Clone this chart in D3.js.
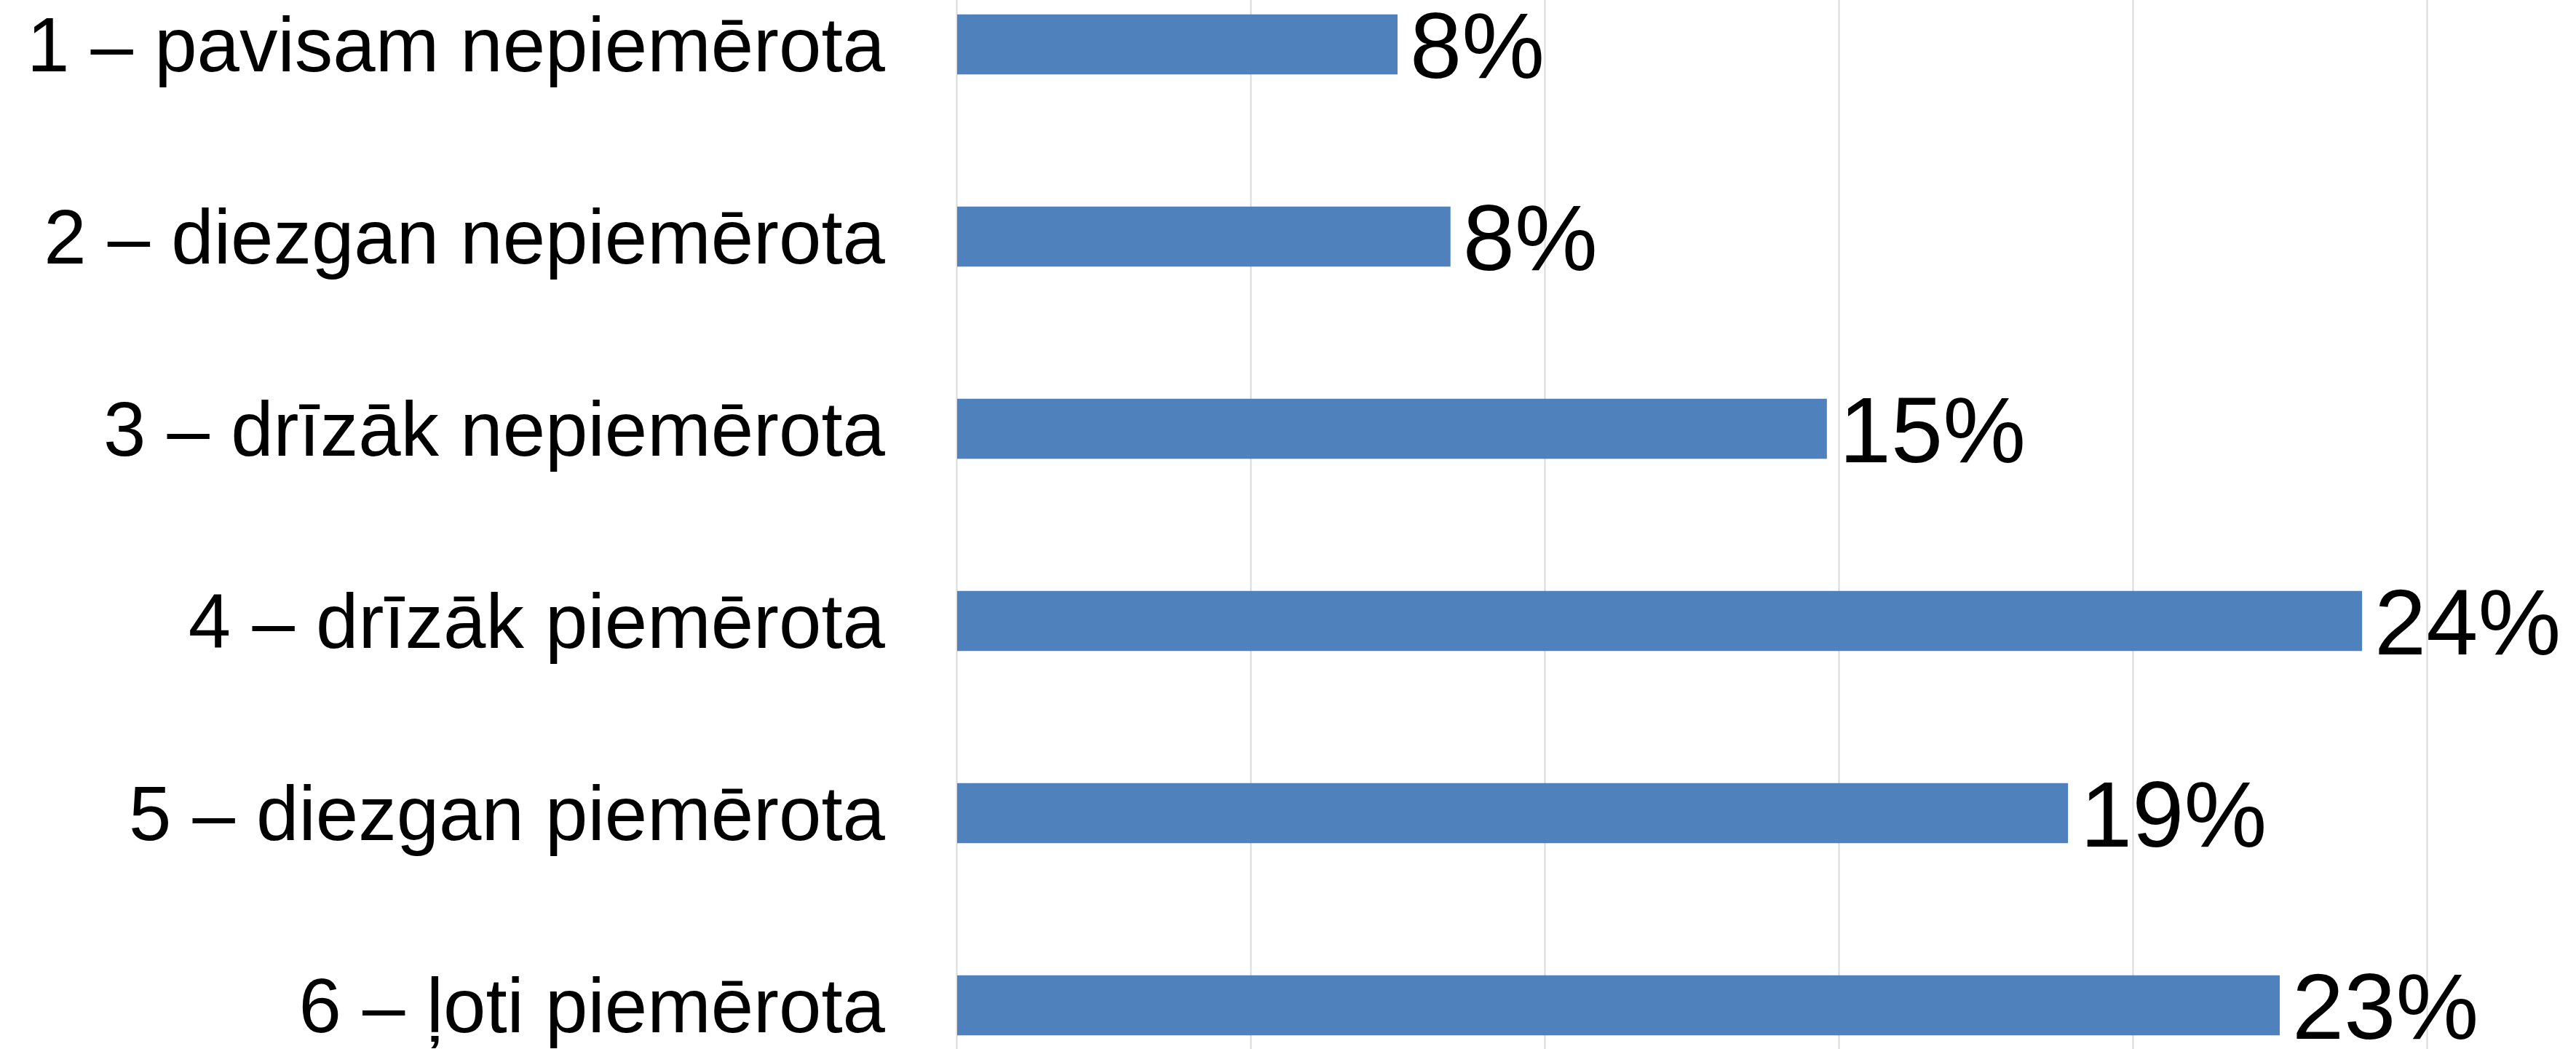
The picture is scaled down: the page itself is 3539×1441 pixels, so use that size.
<!DOCTYPE html>
<html>
<head>
<meta charset="utf-8">
<script src="https://cdn.jsdelivr.net/npm/d3@7"></script>
<style>
  html, body { margin: 0; padding: 0; background: #fff; overflow: hidden; }
  svg { display: block; }
</style>
</head>
<body>
<svg id="chart" width="3539" height="1441"></svg>
<script>
// ---- data ----
const categories = [
  "1 – pavisam nepiemērota",
  "2 – diezgan nepiemērota",
  "3 – drīzāk nepiemērota",
  "4 – drīzāk piemērota",
  "5 – diezgan piemērota",
  "6 – ļoti piemērota"
];
const values = [7.5, 8.4, 14.8, 23.9, 18.9, 22.5];
const valueLabels = ["8%", "8%", "15%", "24%", "19%", "23%"];
const gridTicks = [0, 5, 10, 15, 20, 25, 30];

// ---- layout ----
const W = 3539, H = 1441;
const svg = d3.select("#chart");

const x = d3.scaleLinear().domain([0, 30]).range([1314, 3738]);
const y = d3.scaleBand()
  .domain(categories)
  .range([-71, 1513])
  .paddingInner(0.6875)
  .paddingOuter(0.34375);

// gridlines
svg.append("g")
  .selectAll("line")
  .data(gridTicks)
  .join("line")
  .attr("x1", d => Math.round(x(d)) + 0.5)
  .attr("x2", d => Math.round(x(d)) + 0.5)
  .attr("y1", 0)
  .attr("y2", H)
  .attr("stroke", "#d9d9d9")
  .attr("stroke-width", 2);

const data = categories.map((c, i) => ({ c, v: values[i], label: valueLabels[i] }));

// bars
svg.append("g")
  .selectAll("rect")
  .data(data)
  .join("rect")
  .attr("x", x(0) + 1)
  .attr("y", d => y(d.c))
  .attr("width", d => x(d.v) - x(0) - 1)
  .attr("height", y.bandwidth())
  .attr("fill", "#4f81bd");

// category labels
svg.append("g")
  .selectAll("text")
  .data(data)
  .join("text")
  .attr("x", 1216)
  .attr("y", d => y(d.c) + y.bandwidth() / 2)
  .attr("dy", "0.35em")
  .attr("text-anchor", "end")
  .attr("font-family", "'Liberation Sans', Arial, sans-serif")
  .attr("font-size", 105)
  .attr("fill", "#000")
  .text(d => d.c);

// value labels
svg.append("g")
  .selectAll("text")
  .data(data)
  .join("text")
  .attr("x", d => x(d.v) + 17)
  .attr("y", d => y(d.c) + y.bandwidth() / 2)
  .attr("dy", "0.36em")
  .attr("text-anchor", "start")
  .attr("font-family", "'Liberation Sans', Arial, sans-serif")
  .attr("font-size", 128)
  .attr("fill", "#000")
  .text(d => d.label);
</script>
</body>
</html>
